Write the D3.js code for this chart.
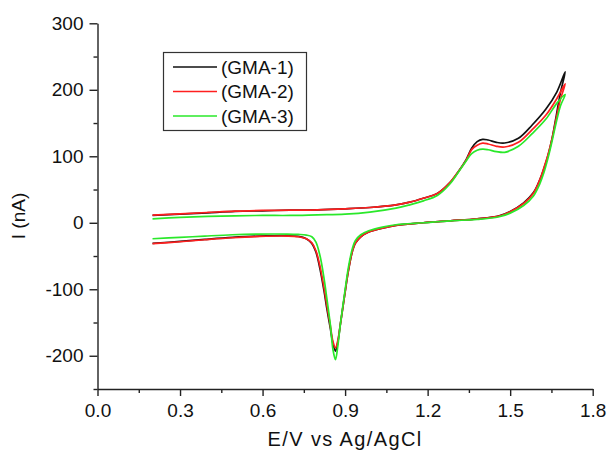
<!DOCTYPE html>
<html>
<head>
<meta charset="utf-8">
<script src="https://cdn.jsdelivr.net/npm/d3@7"></script>
<style>
  html, body { margin: 0; padding: 0; background: #fff; }
  svg { display: block; font-family: "Liberation Sans", Arial, sans-serif; }
</style>
</head>
<body>
<svg id="chart" width="611" height="454"></svg>
<script>
// Cyclic voltammograms, anodic sweep 0.2 -> 1.70 V, then cathodic sweep back to 0.2 V
const seriesNames = ["(GMA-1)", "(GMA-2)", "(GMA-3)"];
const seriesColors = ["#111111", "#ff1f1f", "#2ae82a"];

// Potentials of the forward (anodic) sweep, V vs Ag/AgCl
const forwardE = [0.2, 0.3, 0.4, 0.5, 0.6, 0.7, 0.8, 0.9, 0.99, 1.085, 1.135, 1.185, 1.235,
  1.28, 1.31, 1.34, 1.36, 1.38, 1.40, 1.42, 1.45, 1.48, 1.53, 1.58, 1.63, 1.67, 1.70];
// Potentials of the reverse (cathodic) sweep
const reverseE = [1.70, 1.683, 1.668, 1.653, 1.638, 1.623, 1.608, 1.584, 1.549, 1.50, 1.46,
  1.38, 1.283, 1.184, 1.085, 1.036, 0.986, 0.957, 0.937, 0.927, 0.912, 0.898, 0.883, 0.873,
  0.865, 0.856, 0.846, 0.834, 0.824, 0.809, 0.794, 0.779, 0.759, 0.73, 0.69, 0.59, 0.49,
  0.39, 0.3, 0.2];

// Currents (nA) on the forward sweep
const gma1Forward = [11, 13, 15, 17, 18, 19, 19.5, 21, 23, 27, 31, 37, 44,
  60, 76, 95, 112, 122, 125.5, 124.5, 121, 120, 127, 147, 171, 197, 227];
const gma2Forward = [11.5, 13.5, 15.5, 17.5, 18.5, 19, 19.5, 21, 23, 27, 31, 37, 44,
  60, 76, 94, 110, 116.5, 119.7, 118.5, 115, 114, 121, 140, 162, 187, 209];
const gma3Forward = [6, 8, 9.5, 10.5, 11, 11, 12, 13, 16, 22, 27, 33, 41,
  58, 75, 93, 104, 109, 110.7, 109.8, 107, 106, 115, 134, 156, 180, 193];

// Currents (nA) on the reverse sweep
const gma1Reverse = [227, 196, 162, 128, 102, 82, 65, 45, 30, 17, 10.5,
  6, 3, 0, -4, -8, -14, -21, -31, -42, -72, -110, -152, -181,
  -193, -182, -158, -130, -104, -70, -44, -31, -24, -20.5, -19.5, -20, -22,
  -25, -28, -31];
const gma2Reverse = [209, 186, 158, 128, 103, 83, 65, 44, 29, 16.5, 10,
  6, 3, 0, -4, -8, -14, -21, -31, -42, -72, -110, -152, -178,
  -188, -179, -154, -125, -99, -66, -42, -30, -24, -21, -20, -20.5, -22.5,
  -25.5, -28.5, -31.5];
const gma3Reverse = [193, 176, 152, 124, 98, 76, 59, 40, 26, 14.5, 9,
  5, 3, 0, -3, -6.5, -12, -18, -27, -38, -67, -107, -152, -187,
  -206, -191, -152, -115, -85, -50, -29, -21, -18.5, -17.5, -17, -17, -18,
  -20, -22, -24];

const forwardI = [gma1Forward, gma2Forward, gma3Forward];
const reverseI = [gma1Reverse, gma2Reverse, gma3Reverse];

// Axis ticks
const xMajorTicks = [0.0, 0.3, 0.6, 0.9, 1.2, 1.5, 1.8];
const xMinorTicks = [0.15, 0.45, 0.75, 1.05, 1.35, 1.65];
const yMajorTicks = [-200, -100, 0, 100, 200, 300];
const yMinorTicks = [-250, -150, -50, 50, 150, 250];

const svg = d3.select("#chart");
const x = d3.scaleLinear().domain([0, 1.8]).range([97.5, 592.7]);
const y = d3.scaleLinear().domain([-250, 300]).range([389, 23.3]);

const axisColor = "#222";

// Minor ticks first, then the labelled axes on top
svg.append("g")
  .attr("transform", `translate(0,${y(-250)})`)
  .call(d3.axisBottom(x).tickValues(xMinorTicks).tickSize(4).tickSizeOuter(0).tickFormat(""))
  .call(g => g.select(".domain").remove());
svg.append("g")
  .attr("transform", `translate(${x(0)},0)`)
  .call(d3.axisLeft(y).tickValues(yMinorTicks).tickSize(4).tickSizeOuter(0).tickFormat(""))
  .call(g => g.select(".domain").remove());

svg.append("g")
  .attr("transform", `translate(0,${y(-250)})`)
  .call(d3.axisBottom(x).tickValues(xMajorTicks).tickSize(7).tickSizeOuter(0)
    .tickPadding(8).tickFormat(d3.format(".1f")));
svg.append("g")
  .attr("transform", `translate(${x(0)},0)`)
  .call(d3.axisLeft(y).tickValues(yMajorTicks).tickSize(8).tickSizeOuter(0)
    .tickPadding(6).tickFormat(d => String(d)));

svg.selectAll(".tick line, .domain")
  .attr("stroke", axisColor).attr("stroke-width", 1.4);
svg.selectAll(".tick text")
  .attr("fill", "#111").style("font-size", "19px")
  .style("font-family", "'Liberation Sans', Arial, sans-serif");

// Axis titles
svg.append("text")
  .attr("x", (x(0) + x(1.8)) / 2).attr("y", 446)
  .attr("text-anchor", "middle")
  .style("font-size", "20px").style("letter-spacing", "1.4px")
  .attr("fill", "#111")
  .text("E/V vs Ag/AgCl");
svg.append("text")
  .attr("transform", "translate(25,216) rotate(-90)")
  .attr("text-anchor", "middle")
  .style("font-size", "19px")
  .attr("fill", "#111")
  .text("I (nA)");

// Voltammogram curves
const line = d3.line()
  .x(d => x(d[0]))
  .y(d => y(d[1]))
  .curve(d3.curveCatmullRom.alpha(0.5));

seriesNames.forEach((name, i) => {
  const pts = forwardE.map((e, k) => [e, forwardI[i][k]])
    .concat(reverseE.slice(1).map((e, k) => [e, reverseI[i][k + 1]]));
  svg.append("path")
    .datum(pts)
    .attr("fill", "none")
    .attr("stroke", seriesColors[i])
    .attr("stroke-width", 1.7)
    .attr("stroke-linejoin", "round")
    .attr("d", line);
});

// Legend
const legend = svg.append("g");
legend.append("rect")
  .attr("x", 163.5).attr("y", 52.5).attr("width", 143).attr("height", 78)
  .attr("fill", "#fff").attr("stroke", "#333").attr("stroke-width", 1.2);
const rowY = [67, 91.5, 116];
seriesNames.forEach((name, i) => {
  legend.append("line")
    .attr("x1", 173).attr("x2", 217)
    .attr("y1", rowY[i]).attr("y2", rowY[i])
    .attr("stroke", seriesColors[i]).attr("stroke-width", 1.6);
  legend.append("text")
    .attr("x", 221).attr("y", rowY[i] + 6.8)
    .style("font-size", "19px").attr("fill", "#111")
    .text(name);
});
</script>
</body>
</html>
